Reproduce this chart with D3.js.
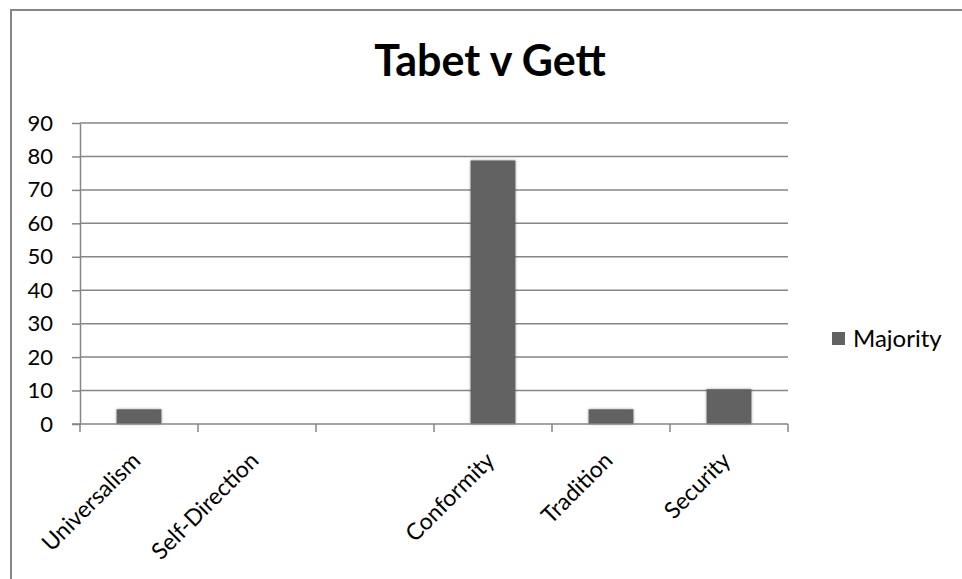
<!DOCTYPE html>
<html lang="en">
<head>
    <meta charset="UTF-8">
    <title>Tabet v Gett</title>
    <script src="https://d3js.org/d3.v7.min.js"></script>
    <style>
        body { margin: 0; background: #fff; }
        text { font-family: Lato, "Open Sans", sans-serif; fill: #000; }
        .grid line { stroke: #868686; stroke-width: 1.5; }
        .axis path, .axis line { stroke: #868686; stroke-width: 1.5; }
    </style>
</head>
<body>
    <svg id="chart" width="962" height="579"></svg>
    <script>
        // Data
        const categories = ["Universalism", "Self-Direction", "", "Conformity", "Tradition", "Security"];
        const majority = [4.4, 0, 0, 78.8, 4.4, 10.4];
        const yTicks = [0, 10, 20, 30, 40, 50, 60, 70, 80, 90];
        const seriesName = "Majority";

        const svg = d3.select("#chart"),
            margin = { top: 123, left: 80, right: 174, bottom: 155 },
            plotW = 962 - margin.left - margin.right,
            plotH = 579 - margin.top - margin.bottom;

        // Outer chart border
        svg.append("rect")
            .attr("x", 11).attr("y", 10)
            .attr("width", 980).attr("height", 600)
            .attr("fill", "none")
            .attr("stroke", "#868686")
            .attr("stroke-width", 2);

        // Title
        svg.append("text")
            .attr("x", 490).attr("y", 76)
            .attr("text-anchor", "middle")
            .style("font-size", "43px")
            .style("font-weight", "bold")
            .text("Tabet v Gett");

        const x = d3.scaleBand()
            .domain(d3.range(categories.length))
            .range([0, plotW])
            .paddingInner(0.62)
            .paddingOuter(0.31);

        const y = d3.scaleLinear()
            .domain([0, 90])
            .range([plotH, 0]);

        const g = svg.append("g")
            .attr("transform", `translate(${margin.left},${margin.top})`);

        // Gridlines
        g.append("g").attr("class", "grid")
            .selectAll("line")
            .data(yTicks.filter(d => d > 0))
            .join("line")
            .attr("x1", 0).attr("x2", plotW)
            .attr("y1", d => y(d)).attr("y2", d => y(d));

        // Shadow filter for bars
        const defs = svg.append("defs");
        const f = defs.append("filter").attr("id", "shadow")
            .attr("x", "-30%").attr("y", "-10%").attr("width", "160%").attr("height", "120%");
        f.append("feDropShadow")
            .attr("dx", 0).attr("dy", 0).attr("stdDeviation", 1.5)
            .attr("flood-color", "#000").attr("flood-opacity", 0.35);

        // Bars
        g.selectAll(".bar")
            .data(majority)
            .join("rect")
            .attr("class", "bar")
            .attr("x", (d, i) => x(i))
            .attr("y", d => y(d))
            .attr("width", x.bandwidth())
            .attr("height", d => plotH - y(d))
            .attr("fill", "#626262")
            .attr("filter", "url(#shadow)")
            .style("display", d => d > 0 ? null : "none");

        // Y axis
        const yAxis = g.append("g").attr("class", "axis")
            .call(d3.axisLeft(y).tickValues(yTicks).tickSize(8).tickSizeOuter(0));
        yAxis.selectAll("text")
            .attr("x", -27)
            .style("font-size", "22px");

        // X axis with ticks on band boundaries
        const step = x.step();
        const xAxis = g.append("g").attr("class", "axis")
            .attr("transform", `translate(0,${plotH})`);
        xAxis.append("line")
            .attr("x1", -8).attr("x2", plotW)
            .attr("y1", 0).attr("y2", 0);
        xAxis.selectAll(".tick-mark")
            .data(d3.range(categories.length + 1))
            .join("line")
            .attr("class", "tick-mark")
            .attr("x1", d => d * step).attr("x2", d => d * step)
            .attr("y1", 0).attr("y2", 8);
        xAxis.selectAll(".label")
            .data(categories)
            .join("text")
            .attr("class", "label")
            .attr("text-anchor", "end")
            .attr("transform", (d, i) => `translate(${x(i) + x.bandwidth() / 2 + 3},${38}) rotate(-45)`)
            .style("font-size", "23px")
            .text(d => d);

        // Legend
        const legend = svg.append("g")
            .attr("transform", "translate(832,332)");
        legend.append("rect")
            .attr("width", 13).attr("height", 13)
            .attr("fill", "#626262");
        legend.append("text")
            .attr("x", 21).attr("y", 15)
            .style("font-size", "24px")
            .text(seriesName);
    </script>
</body>
</html>
